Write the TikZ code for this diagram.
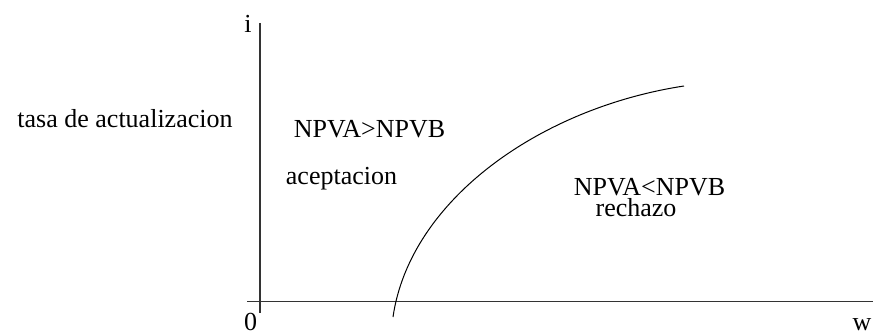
\documentclass[tikz,border=0pt]{standalone}
\usepackage{fontspec}
\setmainfont{Liberation Serif}
\begin{document}
\begin{tikzpicture}[x=1pt,y=-1pt,
  lbl/.style={inner sep=0pt,anchor=base,font=\fontsize{26}{30}\selectfont},
  axis/.style={line width=1.2pt,draw=black!80},
  curve/.style={line width=1pt,draw=black}]
\useasboundingbox (0,0) rectangle (873,334);
% axes
\coordinate (ytop) at (260,23);
\coordinate (ybot) at (260,313);
\coordinate (xl) at (247,301.5);
\coordinate (xr) at (873,301.5);
\draw[axis] (ytop) -- (ybot);
\draw[axis] (xl) -- (xr);
% curve
\coordinate (cs) at (393,317);
\coordinate (ce) at (684,86);
\draw[curve] (cs) .. controls (410,200) and (540,108) .. (ce);
% labels
\node[lbl] (i) at (248,33) {i};
\node[lbl] (zero) at (250.5,330) {0};
\node[lbl] (w) at (862,330) {w};
\node[lbl] (tasa) at (125,128) {tasa de actualizacion};
\node[lbl] (npa) at (369.5,138) {NPVA>NPVB};
\node[lbl] (acep) at (341.5,185) {aceptacion};
\node[lbl] (npb) at (649.5,195) {NPVA<NPVB};
\node[lbl] (rech) at (636,216) {rechazo};
\end{tikzpicture}
\end{document}
